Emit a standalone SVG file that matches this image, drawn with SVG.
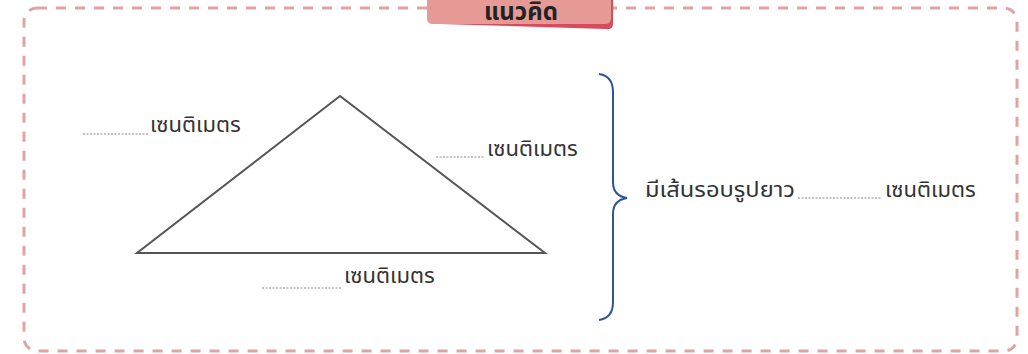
<svg xmlns="http://www.w3.org/2000/svg" width="1028" height="354" viewBox="0 0 1028 354">
<style>
.t{font-family:"Noto Sans Thai","Noto Sans","DejaVu Sans",sans-serif;font-size:22px;fill:#333}
.dot{stroke:#888;stroke-width:1;stroke-dasharray:2 1.5}
</style>
<rect width="1028" height="354" fill="#fff"/>
<g id="frame">
<rect x="24" y="8" width="993" height="343" rx="13" fill="none" stroke="#e0a3a3" stroke-width="3" stroke-dasharray="10 9"/>
</g>
<g id="header">
<path d="M432 -5 H613 V24 Q613 30 606 29 L440 24 Q432 24 432 18 Z" fill="#d94a5c"/>
<path d="M427 -5 H611 V18 Q611 24 605 24 H433 Q427 24 427 18 Z" fill="#e59a96"/>
<text x="521" y="20" text-anchor="middle" font-family="'Noto Sans Thai','Noto Sans',sans-serif" font-size="24" font-weight="bold" fill="#222">แนวคิด</text>
</g>
<g id="triangle">
<polygon points="340,96 137,253 545,253" fill="none" stroke="#555" stroke-width="2"/>
</g>
<g id="label-left">
<line class="dot" x1="83" y1="134" x2="148" y2="134"/>
<text class="t" x="150" y="132">เซนติเมตร</text>
</g>
<g id="label-right">
<line class="dot" x1="436" y1="157" x2="485" y2="157"/>
<text class="t" x="487" y="156">เซนติเมตร</text>
</g>
<g id="label-bottom">
<line class="dot" x1="262" y1="288" x2="342" y2="288"/>
<text class="t" x="344" y="283">เซนติเมตร</text>
</g>
<g id="brace">
<path d="M599 74 Q613 76 613 92 V182 Q613 196 627 198 Q613 200 613 214 V302 Q613 318 599 320" fill="none" stroke="#2f5597" stroke-width="2"/>
</g>
<g id="perimeter">
<text class="t" x="645" y="197" textLength="150" lengthAdjust="spacingAndGlyphs">มีเส้นรอบรูปยาว</text>
<line class="dot" x1="798" y1="198" x2="882" y2="198"/>
<text class="t" x="885" y="197">เซนติเมตร</text>
</g>
</svg>
